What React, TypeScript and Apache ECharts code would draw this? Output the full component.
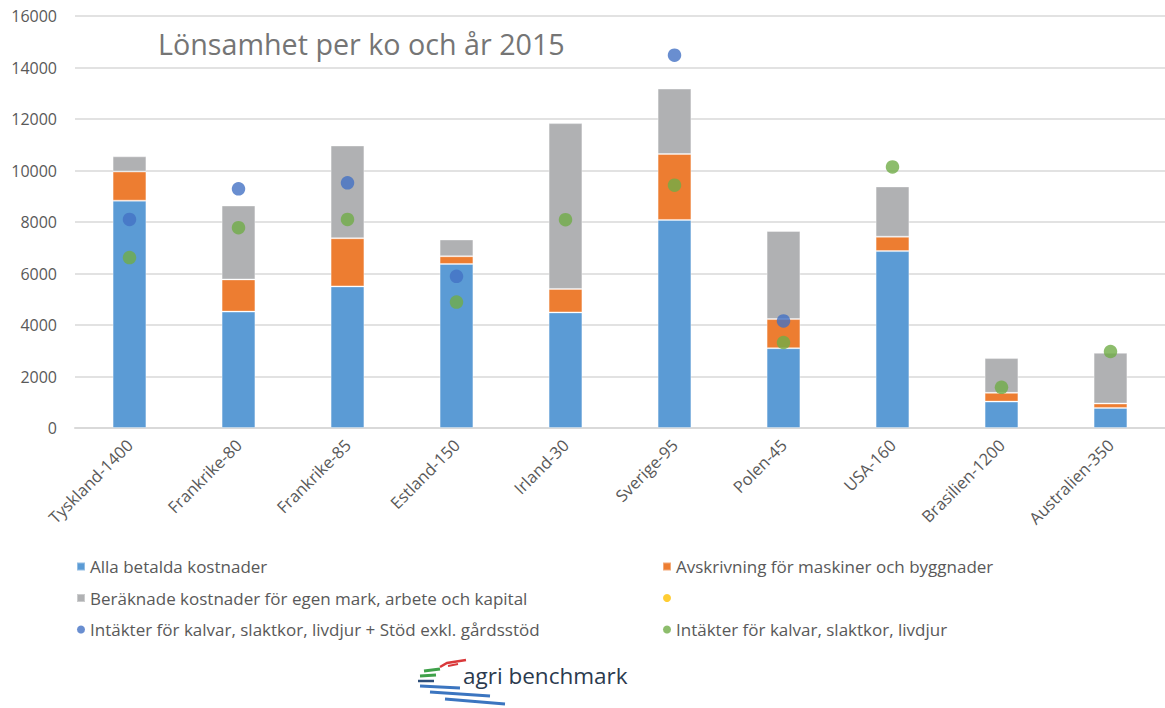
import React, { useEffect, useRef } from "react";
import * as echarts from "echarts";

const categories = [
  "Tyskland-1400",
  "Frankrike-80",
  "Frankrike-85",
  "Estland-150",
  "Irland-30",
  "Sverige-95",
  "Polen-45",
  "USA-160",
  "Brasilien-1200",
  "Australien-350",
];

const paidCosts = [8830, 4520, 5500, 6370, 4490, 8080, 3100, 6870, 1025, 780];
const depreciation = [1130, 1250, 1870, 300, 910, 2560, 1130, 560, 340, 170];
const imputedCosts = [590, 2870, 3600, 650, 6440, 2540, 3420, 1950, 1350, 1970];
const revenueWithSupport = [8100, 9290, 9520, 5890, null, 14480, 4160, null, null, null];
const revenue = [6620, 7780, 8100, 4890, 8090, 9430, 3320, 10140, 1580, 2970];

const yTicks = { min: 0, max: 16000, interval: 2000 };

const names = {
  paid: "Alla betalda kostnader",
  dep: "Avskrivning för maskiner och byggnader",
  imp: "Beräknade kostnader för egen mark, arbete och kapital",
  blank: " ",
  revSup: "Intäkter för kalvar, slaktkor, livdjur + Stöd exkl. gårdsstöd",
  rev: "Intäkter för kalvar, slaktkor, livdjur",
};

const FONT = "'Open Sans', 'Noto Sans', sans-serif";

export default function App() {
  const ref = useRef<HTMLDivElement>(null);
  useEffect(() => {
    if (!ref.current) return;
    const chart = echarts.init(ref.current, undefined, { renderer: "svg" });
    const barBase = {
      type: "bar",
      stack: "cost",
      barWidth: "31%",
      itemStyle: { borderColor: "rgba(255,255,255,0.35)", borderWidth: 1 },
    };
    const legendText = { color: "#595959", fontSize: 17, fontFamily: FONT, lineHeight: 17 };
    const legendBase = {
      orient: "vertical",
      top: 558,
      padding: 0,
      itemWidth: 8,
      itemHeight: 8,
      itemGap: 14.5,
      textStyle: legendText,
    };
    chart.setOption({
      animation: false,
      textStyle: { fontFamily: FONT },
      title: {
        text: "Lönsamhet per ko och år 2015",
        left: 153,
        top: 24,
        textStyle: { color: "#757575", fontSize: 28.7, fontWeight: "normal", fontFamily: FONT },
      },
      grid: { left: 75, right: -8, top: 16, bottom: 280 },
      legend: [
        {
          ...legendBase,
          left: 76,
          data: [
            { name: names.paid, icon: "rect" },
            { name: names.imp, icon: "rect" },
            { name: names.revSup, icon: "circle" },
          ],
        },
        {
          ...legendBase,
          left: 662,
          data: [
            { name: names.dep, icon: "rect" },
            { name: names.blank, icon: "circle" },
            { name: names.rev, icon: "circle" },
          ],
        },
      ],
      xAxis: {
        type: "category",
        data: categories,
        axisLine: { lineStyle: { color: "#D9D9D9", width: 2 } },
        axisTick: { show: false },
        axisLabel: { rotate: 45, color: "#595959", fontSize: 16.5, margin: 14, fontFamily: FONT },
      },
      yAxis: {
        type: "value",
        min: yTicks.min,
        max: yTicks.max,
        interval: yTicks.interval,
        axisLine: { show: false },
        axisTick: { show: false },
        splitLine: { lineStyle: { color: "#D9D9D9", width: 1.5 } },
        axisLabel: { color: "#595959", fontSize: 16, margin: 18, fontFamily: FONT, formatter: (v: number) => String(v) },
      },
      series: [
        { ...barBase, name: names.paid, data: paidCosts, itemStyle: { ...barBase.itemStyle, color: "#5B9BD5" } },
        { ...barBase, name: names.dep, data: depreciation, itemStyle: { ...barBase.itemStyle, color: "#ED7D31" } },
        { ...barBase, name: names.imp, data: imputedCosts, itemStyle: { ...barBase.itemStyle, color: "#B0B1B3" } },
        { type: "scatter", name: names.blank, data: [], itemStyle: { color: "#FFC000" }, symbolSize: 12 },
        { type: "scatter", name: names.revSup, data: revenueWithSupport, itemStyle: { color: "#4472C4" }, symbolSize: 13.5, z: 5 },
        { type: "scatter", name: names.rev, data: revenue, itemStyle: { color: "#70AD47" }, symbolSize: 13.5, z: 5 },
      ],
      graphic: [
        { type: "polyline", shape: { points: [[440, 667], [447, 663], [466, 660]] }, style: { stroke: "#D9383A", lineWidth: 2.5, fill: null } },
        { type: "polyline", shape: { points: [[448, 666], [458, 664]] }, style: { stroke: "#D9383A", lineWidth: 2, fill: null } },
        { type: "line", shape: { x1: 424, y1: 671, x2: 440, y2: 669 }, style: { stroke: "#3FA14A", lineWidth: 3 } },
        { type: "line", shape: { x1: 420, y1: 676, x2: 436, y2: 675 }, style: { stroke: "#3FA14A", lineWidth: 3 } },
        { type: "line", shape: { x1: 418, y1: 681, x2: 434, y2: 681 }, style: { stroke: "#2D4E7A", lineWidth: 2.5 } },
        { type: "line", shape: { x1: 420, y1: 686, x2: 460, y2: 688 }, style: { stroke: "#3B75C0", lineWidth: 3 } },
        { type: "line", shape: { x1: 430, y1: 692, x2: 490, y2: 696 }, style: { stroke: "#3B75C0", lineWidth: 3 } },
        { type: "line", shape: { x1: 445, y1: 699, x2: 505, y2: 704 }, style: { stroke: "#3B75C0", lineWidth: 3 } },
        {
          type: "text",
          left: 463,
          top: 664,
          style: { text: "agri benchmark", fill: "#2B3A4E", font: `22.5px ${FONT}` },
        },
      ],
    });
    return () => chart.dispose();
  }, []);
  return <div ref={ref} style={{ width: 1165, height: 708, position: "absolute", left: 0, top: 0 }} />;
}
